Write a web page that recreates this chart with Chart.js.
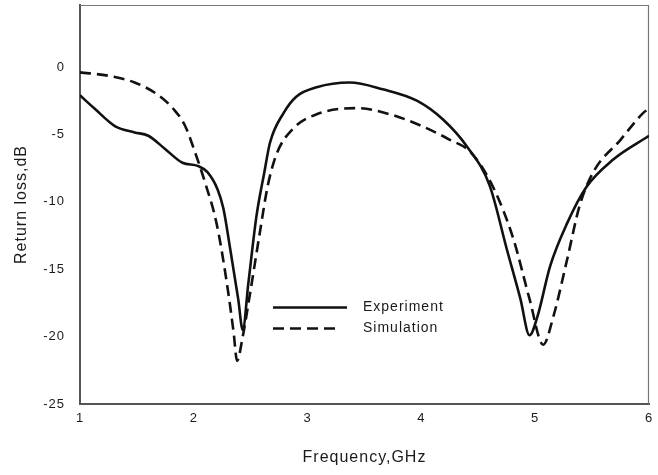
<!DOCTYPE html>
<html>
<head>
<meta charset="utf-8">
<script src="https://cdn.jsdelivr.net/npm/chart.js@4/dist/chart.umd.min.js"></script>
<style>
  html, body { margin: 0; padding: 0; background: #fff; }
  #wrap { position: relative; width: 658px; height: 475px; }
</style>
</head>
<body>
<div id="wrap"><canvas id="rlChart" width="658" height="475"></canvas></div>
<script>
// ── data ─────────────────────────────────────────────────────
const expFreq = [1.00, 1.13, 1.31, 1.48, 1.60, 1.75, 1.90, 2.04, 2.12, 2.21, 2.26, 2.32, 2.39, 2.43,
                 2.48, 2.55, 2.62, 2.67, 2.79, 2.90, 3.08, 3.37, 3.66, 3.96, 4.19, 4.40, 4.60, 4.75,
                 4.87, 4.95, 5.02, 5.13, 5.28, 5.45, 5.68, 6.00];
const expLoss = [-2.1, -3.1, -4.4, -4.85, -5.1, -6.1, -7.1, -7.35, -7.8, -9.1, -10.5, -13.5, -17.2, -19.5,
                 -16.0, -11.1, -7.8, -5.6, -3.4, -2.2, -1.5, -1.15, -1.65, -2.5, -3.9, -5.9, -8.8, -13.5,
                 -17.2, -19.9, -18.5, -14.8, -11.6, -8.9, -6.9, -5.1];

const simFreq = [1.00, 1.25, 1.48, 1.69, 1.83, 1.92, 2.01, 2.10, 2.20, 2.29, 2.35, 2.38, 2.43, 2.50,
                 2.58, 2.65, 2.73, 2.87, 3.08, 3.43, 3.72, 4.01, 4.25, 4.43, 4.63, 4.81, 4.95, 5.07,
                 5.16, 5.28, 5.39, 5.51, 5.75, 5.95, 6.00];
const simLoss = [-0.4, -0.65, -1.15, -2.1, -3.2, -4.3, -6.3, -8.6, -11.6, -16.0, -19.7, -21.8, -20.0, -16.5,
                 -12.3, -8.8, -6.4, -4.6, -3.5, -3.05, -3.5, -4.4, -5.4, -6.3, -8.9, -12.8, -17.2, -20.6,
                 -18.5, -14.3, -10.3, -7.8, -5.4, -3.4, -3.1];

const xTicks = [1, 2, 3, 4, 5, 6];
const yTicks = [-25, -20, -15, -10, -5, 0];
const seriesNames = ['Experiment', 'Simulation'];

function toPoints(xs, ys) {
    return xs.map(function (x, i) { return { x: x, y: ys[i] }; });
}

const FONT = '"Liberation Sans", Arial, sans-serif';
const INK = '#1a1a1a';
const AXIS = '#555555';

// the scanned original has slightly stretched lettering
const spacingPlugin = {
    id: 'spacing',
    beforeDraw(chart) { chart.ctx.letterSpacing = '1px'; }
};

// top and right edges of the frame (thinner than the axes)
const framePlugin = {
    id: 'frame',
    beforeDatasetsDraw(chart) {
        const a = chart.chartArea, ctx = chart.ctx;
        ctx.save();
        ctx.strokeStyle = '#777';
        ctx.lineWidth = 1.2;
        ctx.beginPath();
        ctx.moveTo(a.left, a.top + 0.5);
        ctx.lineTo(a.right - 0.5, a.top + 0.5);
        ctx.lineTo(a.right - 0.5, a.bottom);
        ctx.stroke();
        ctx.restore();
    }
};

// legend sitting inside the plot
const legendPlugin = {
    id: 'insideLegend',
    afterDatasetsDraw(chart) {
        const ctx = chart.ctx;
        const rows = [307.5, 328.5];
        ctx.save();
        chart.data.datasets.forEach(function (ds, i) {
            const y = rows[i];
            ctx.strokeStyle = ds.borderColor;
            ctx.lineWidth = 2.6;
            ctx.setLineDash(ds.borderDash || []);
            ctx.beginPath();
            ctx.moveTo(273, y);
            ctx.lineTo(i === 0 ? 347 : 340, y);
            ctx.stroke();
            ctx.setLineDash([]);
            ctx.fillStyle = INK;
            ctx.font = '14px ' + FONT;
            ctx.textBaseline = 'middle';
            ctx.fillText(ds.label, 363, y);
        });
        ctx.restore();
    }
};

new Chart(document.getElementById('rlChart').getContext('2d'), {
    type: 'line',
    data: {
        datasets: [{
            label: seriesNames[0],
            data: toPoints(expFreq, expLoss),
            borderColor: '#111',
            borderWidth: 2.6,
            pointRadius: 0,
            cubicInterpolationMode: 'monotone',
            fill: false,
        }, {
            label: seriesNames[1],
            data: toPoints(simFreq, simLoss),
            borderColor: '#111',
            borderWidth: 2.6,
            borderDash: [11, 6],
            pointRadius: 0,
            cubicInterpolationMode: 'monotone',
            fill: false,
        }],
    },
    options: {
        responsive: false,
        animation: false,
        layout: { padding: { top: 5, right: 9, left: 0, bottom: 0 } },
        plugins: { legend: { display: false }, tooltip: { enabled: false } },
        scales: {
            x: {
                type: 'linear',
                min: 1, max: 6,
                afterBuildTicks: function (s) { s.ticks = xTicks.map(function (v) { return { value: v }; }); },
                afterFit: function (s) { s.height = 71; s.paddingLeft = 0; s.paddingRight = 0; },
                grid: { display: false, drawTicks: true, tickLength: 4, tickColor: AXIS, tickWidth: 1.5 },
                border: { display: true, color: AXIS, width: 2 },
                ticks: { color: INK, font: { family: FONT, size: 13 }, padding: 3, maxRotation: 0 },
                title: { display: true, text: 'Frequency,GHz', color: INK,
                         font: { family: FONT, size: 16 }, padding: { top: 0, bottom: 8 } },
            },
            y: {
                type: 'linear',
                min: -25, max: 4.6,
                afterBuildTicks: function (s) { s.ticks = yTicks.map(function (v) { return { value: v }; }); },
                afterFit: function (s) { s.width = 80; s.paddingTop = 0; s.paddingBottom = 0; },
                grid: { display: false, drawTicks: true, tickLength: 4, tickColor: AXIS, tickWidth: 1.5 },
                border: { display: true, color: AXIS, width: 2 },
                ticks: { color: INK, font: { family: FONT, size: 13 }, padding: 11 },
                title: { display: true, text: 'Return loss,dB', color: INK,
                         font: { family: FONT, size: 16 }, padding: { top: 12, bottom: 0 } },
            },
        },
    },
    plugins: [spacingPlugin, framePlugin, legendPlugin],
});
</script>
</body>
</html>
